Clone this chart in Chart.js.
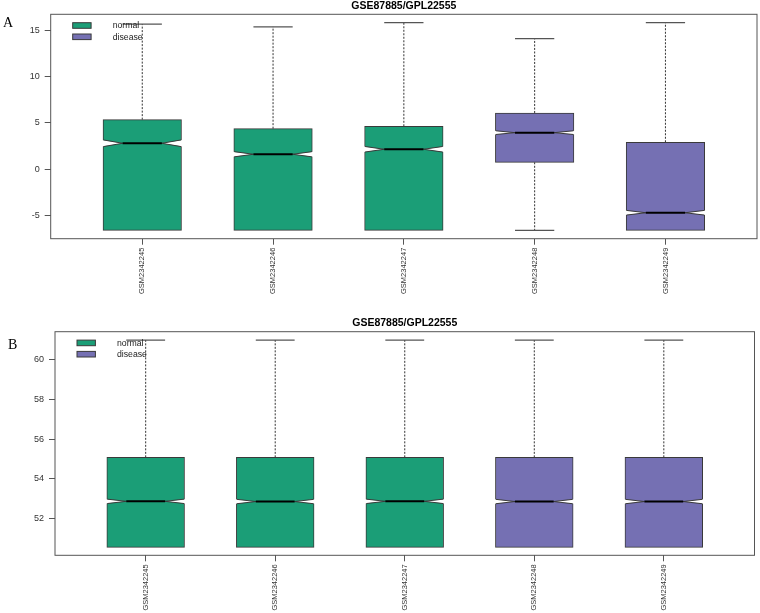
<!DOCTYPE html>
<html>
<head>
<meta charset="utf-8">
<script src="https://cdn.jsdelivr.net/npm/chart.js@4.4.1/dist/chart.umd.min.js"></script>
<style>
  html, body { margin: 0; padding: 0; background: #fff; width: 760px; height: 613px; overflow: hidden; }
  .panel { position: absolute; left: 0; }
  .tag { position: absolute; font-family: "Liberation Serif", "DejaVu Serif", serif; font-size: 14px; line-height: 14px; color: #000; }
</style>
</head>
<body>
<div class="panel" style="top:0px;"><canvas id="cA" width="760" height="300"></canvas></div>
<div class="panel" style="top:300px;"><canvas id="cB" width="760" height="313"></canvas></div>
<div class="tag" style="left:3px; top:16px;">A</div>
<div class="tag" style="left:8px; top:338px;">B</div>
<script>
// ---------- data ----------
const titleText = 'GSE87885/GPL22555';
const samples = ['GSM2342245', 'GSM2342246', 'GSM2342247', 'GSM2342248', 'GSM2342249'];
const groups  = ['normal', 'normal', 'normal', 'disease', 'disease'];
const groupNames = ['normal', 'disease'];
const groupColors = ['#1B9E77', '#7570B3'];

// Panel A
const aMin   = [-6.63, -6.63, -6.63, -6.63, -6.63];
const aQ1    = [-6.63, -6.63, -6.63,  0.74, -6.63];
const aMed   = [ 2.80,  1.61,  2.15,  3.95, -4.72];
const aQ3    = [ 5.36,  4.38,  4.64,  6.08,  2.91];
const aMax   = [15.69, 15.40, 15.86, 14.13, 15.86];
const aNotch = [ 0.36,  0.28,  0.30,  0.20,  0.25];
const yTicksA = [-5, 0, 5, 10, 15];

// Panel B
const bMin   = [50.56, 50.56, 50.56, 50.56, 50.56];
const bQ1    = [50.56, 50.56, 50.56, 50.56, 50.56];
const bMed   = [52.87, 52.86, 52.87, 52.86, 52.86];
const bQ3    = [55.08, 55.08, 55.08, 55.08, 55.08];
const bMax   = [60.97, 60.97, 60.97, 60.97, 60.97];
const bNotch = [ 0.11,  0.11,  0.11,  0.11,  0.11];
const yTicksB = [52, 54, 56, 58, 60];

// ---------- helpers ----------
const FONT = '"Liberation Sans", Arial, sans-serif';
const BORDER = '#3a3a3a';

function makeDatasets(q1, q3) {
  return groupNames.map((g, gi) => ({
    label: g,
    backgroundColor: groupColors[gi],
    borderColor: BORDER,
    borderWidth: 1,
    borderSkipped: false,
    grouped: false,
    data: samples.map((s, i) => groups[i] === g ? { x: i + 1, y: [q1[i], q3[i]], i: i } : null).filter(Boolean)
  }));
}

function boxPlugin(stats) {
  return {
    id: 'boxExtras',
    beforeDatasetsDraw(chart) {
      const ctx = chart.ctx, ys = chart.scales.y;
      chart.data.datasets.forEach((ds, di) => {
        chart.getDatasetMeta(di).data.forEach((el, j) => {
          const i = ds.data[j].i;
          const x = el.x, w = el.width;
          const yQ3 = ys.getPixelForValue(stats.q3[i]);
          const yQ1 = ys.getPixelForValue(stats.q1[i]);
          const yMax = ys.getPixelForValue(stats.max[i]);
          const yMin = ys.getPixelForValue(stats.min[i]);
          ctx.save();
          ctx.lineWidth = 1;
          ctx.strokeStyle = '#333';
          ctx.setLineDash([2, 1.5]);
          ctx.beginPath();
          if (stats.max[i] > stats.q3[i]) { ctx.moveTo(x, yQ3); ctx.lineTo(x, yMax); }
          if (stats.min[i] < stats.q1[i]) { ctx.moveTo(x, yQ1); ctx.lineTo(x, yMin); }
          ctx.stroke();
          ctx.setLineDash([]);
          ctx.strokeStyle = '#555';
          ctx.lineWidth = 1.2;
          ctx.beginPath();
          if (stats.max[i] > stats.q3[i]) { ctx.moveTo(x - w / 4, yMax); ctx.lineTo(x + w / 4, yMax); }
          if (stats.min[i] < stats.q1[i]) { ctx.moveTo(x - w / 4, yMin); ctx.lineTo(x + w / 4, yMin); }
          ctx.stroke();
          ctx.restore();
        });
      });
    },
    afterDatasetsDraw(chart) {
      const ctx = chart.ctx, ys = chart.scales.y;
      chart.data.datasets.forEach((ds, di) => {
        chart.getDatasetMeta(di).data.forEach((el, j) => {
          const i = ds.data[j].i;
          const x = el.x, w = el.width;
          const L = x - w / 2, R = x + w / 2, inset = w / 4;
          const ym = ys.getPixelForValue(stats.med[i]);
          const yt = ys.getPixelForValue(stats.med[i] + stats.notch[i]);
          const yb = ys.getPixelForValue(stats.med[i] - stats.notch[i]);
          ctx.save();
          ctx.fillStyle = '#fff';
          ctx.beginPath();
          ctx.moveTo(L - 1, yt); ctx.lineTo(L + inset, ym); ctx.lineTo(L - 1, yb); ctx.closePath();
          ctx.moveTo(R + 1, yt); ctx.lineTo(R - inset, ym); ctx.lineTo(R + 1, yb); ctx.closePath();
          ctx.fill();
          ctx.strokeStyle = BORDER;
          ctx.lineWidth = 1;
          ctx.beginPath();
          ctx.moveTo(L + 0.5, yt); ctx.lineTo(L + inset, ym); ctx.lineTo(L + 0.5, yb);
          ctx.moveTo(R - 0.5, yt); ctx.lineTo(R - inset, ym); ctx.lineTo(R - 0.5, yb);
          ctx.stroke();
          ctx.strokeStyle = '#000';
          ctx.lineWidth = 2;
          ctx.beginPath();
          ctx.moveTo(L + inset, ym); ctx.lineTo(R - inset, ym);
          ctx.stroke();
          ctx.restore();
        });
      });
    },
    afterDraw(chart) {
      const ctx = chart.ctx, ca = chart.chartArea;
      ctx.save();
      // frame
      ctx.strokeStyle = '#555';
      ctx.lineWidth = 1;
      ctx.strokeRect(ca.left, ca.top, ca.right - ca.left, ca.bottom - ca.top);
      // legend inside plot
      chart.data.datasets.forEach((ds, k) => {
        const bx = ca.left + 22, by = ca.top + 8.4 + k * 11.3;
        ctx.fillStyle = ds.backgroundColor;
        ctx.fillRect(bx, by, 18.4, 5.6);
        ctx.strokeStyle = BORDER;
        ctx.strokeRect(bx, by, 18.4, 5.6);
        ctx.fillStyle = '#222';
        ctx.font = '8.7px ' + FONT;
        ctx.textAlign = 'left';
        ctx.textBaseline = 'middle';
        ctx.fillText(ds.label, ca.left + 62, by + 3.4);
      });
      ctx.restore();
    }
  };
}

function makeChart(id, cfg) {
  const stats = { min: cfg.min, q1: cfg.q1, med: cfg.med, q3: cfg.q3, max: cfg.max, notch: cfg.notch };
  return new Chart(document.getElementById(id), {
    type: 'bar',
    data: { datasets: makeDatasets(cfg.q1, cfg.q3) },
    plugins: [boxPlugin(stats)],
    options: {
      responsive: false,
      animation: false,
      devicePixelRatio: 1,
      barThickness: cfg.barW,
      layout: { padding: { top: cfg.padTop, right: cfg.padRight, left: 0, bottom: 0 } },
      plugins: {
        legend: { display: false },
        tooltip: { enabled: false },
        title: {
          display: true, text: titleText, fullSize: false, color: '#000',
          font: { family: FONT, size: 10.5, weight: 'bold', lineHeight: 1.2 },
          padding: { top: 0, bottom: cfg.titleGap }
        }
      },
      scales: {
        x: {
          type: 'linear', min: 0.3, max: 5.7, offset: false,
          afterBuildTicks: (s) => { s.ticks = samples.map((_, i) => ({ value: i + 1 })); },
          afterFit: (s) => { s.height = cfg.xHeight; },
          ticks: {
            autoSkip: false, minRotation: 90, maxRotation: 90, padding: 3,
            color: '#333', font: { family: FONT, size: 7.5 },
            callback: (v) => samples[Math.round(v) - 1] || ''
          },
          grid: { display: true, drawOnChartArea: false, drawTicks: true, tickLength: 6, tickColor: '#555', offset: false },
          border: { display: false }
        },
        y: {
          type: 'linear', min: cfg.yMin, max: cfg.yMax,
          afterBuildTicks: (s) => { s.ticks = cfg.yTicks.map(v => ({ value: v })); },
          afterFit: (s) => { s.width = cfg.yWidth; },
          ticks: { color: '#333', padding: 5, font: { family: FONT, size: 9 } },
          grid: { display: true, drawOnChartArea: false, drawTicks: true, tickLength: 6, tickColor: '#555' },
          border: { display: false }
        }
      }
    }
  });
}

makeChart('cA', {
  min: aMin, q1: aQ1, med: aMed, q3: aQ3, max: aMax, notch: aNotch, yTicks: yTicksA,
  yMin: -7.53, yMax: 16.76, yWidth: 50.7, xHeight: 61.3, padTop: 0, padRight: 3, titleGap: 1.7, barW: 78.5
});
makeChart('cB', {
  min: bMin, q1: bQ1, med: bMed, q3: bQ3, max: bMax, notch: bNotch, yTicks: yTicksB,
  yMin: 50.16, yMax: 61.39, yWidth: 55, xHeight: 57.7, padTop: 16.7, padRight: 5.5, titleGap: 2.4, barW: 77.7
});
</script>
</body>
</html>
